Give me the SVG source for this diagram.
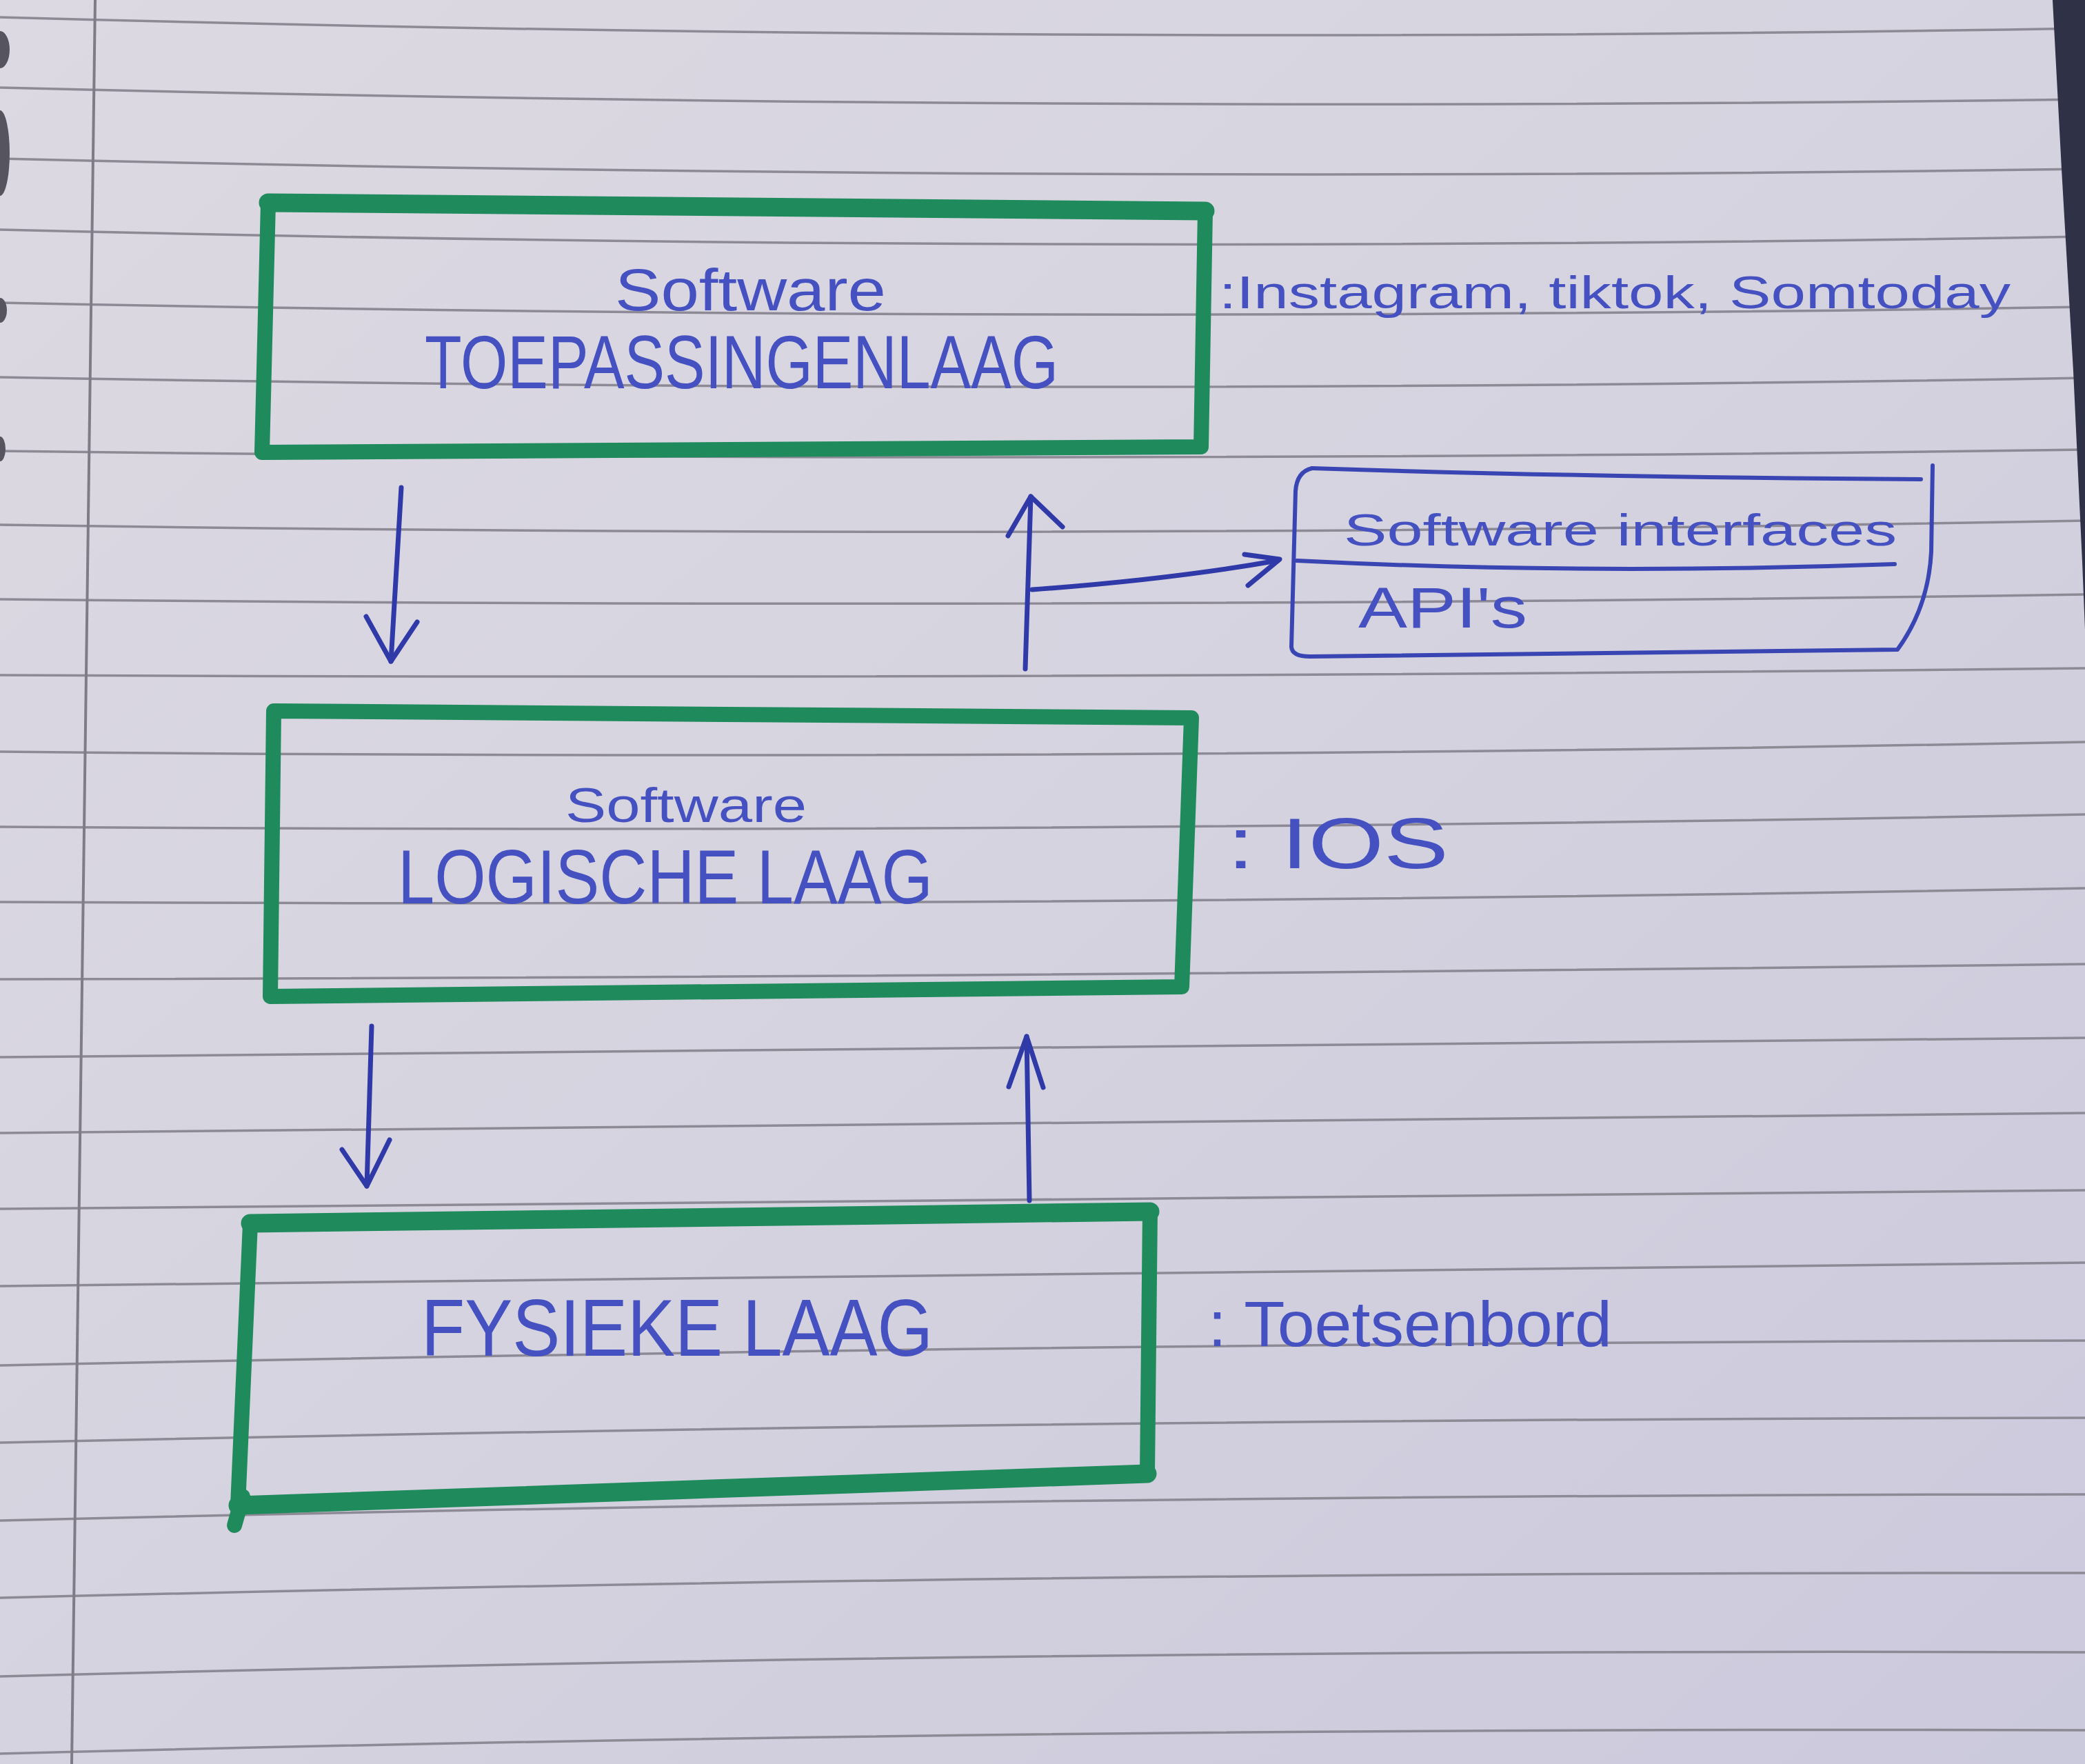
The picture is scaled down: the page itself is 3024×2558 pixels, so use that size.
<svg xmlns="http://www.w3.org/2000/svg" width="3024" height="2558" viewBox="0 0 3024 2558">
<defs>
<linearGradient id="paper" x1="0" y1="0" x2="1" y2="1">
<stop offset="0" stop-color="#dcd9e2"/>
<stop offset="0.5" stop-color="#d5d3df"/>
<stop offset="1" stop-color="#cbc9dc"/>
</linearGradient>
<style>
.rule{fill:none;stroke:#8d8a96;stroke-width:3.5}
.margin{fill:none;stroke:#7f7c88;stroke-width:4}
.green{fill:none;stroke:#1f8a5c;stroke-width:22;stroke-linejoin:round;stroke-linecap:round}
.greentop{fill:none;stroke:#1f8a5c;stroke-width:27;stroke-linecap:round}
.pen{fill:none;stroke:#3a45b4;stroke-width:6;stroke-linecap:round;stroke-linejoin:round}
.arrow{fill:none;stroke:#2f39a8;stroke-width:7;stroke-linecap:round;stroke-linejoin:round}
.ink{font-family:"Liberation Sans",Arial,sans-serif;fill:#4551c0}
</style>
</defs>

<g id="paper-background">
<rect x="0" y="0" width="3024" height="2558" fill="url(#paper)"/>
<g id="ruling">
<path class="rule" d="M0 25 Q1512 67 3024 41"/>
<path class="rule" d="M0 127 Q1512 164.5 3024 144"/>
<path class="rule" d="M0 230 Q1512 266.5 3024 245"/>
<path class="rule" d="M0 333 Q1512 370 3024 343"/>
<path class="rule" d="M0 439 Q1512 470 3024 445"/>
<path class="rule" d="M0 547 Q1512 574.5 3024 548"/>
<path class="rule" d="M0 654 Q1512 673 3024 652"/>
<path class="rule" d="M0 761 Q1512 784 3024 755"/>
<path class="rule" d="M0 869 Q1512 884.5 3024 862"/>
<path class="rule" d="M0 979 Q1512 986 3024 969"/>
<path class="rule" d="M0 1090 Q1512 1105 3024 1076"/>
<path class="rule" d="M0 1199 Q1512 1210 3024 1181"/>
<path class="rule" d="M0 1308 Q1512 1316 3024 1288"/>
<path class="rule" d="M0 1420 Q1512 1417 3024 1398"/>
<path class="rule" d="M0 1533 Q1512 1523 3024 1505"/>
<path class="rule" d="M0 1643 Q1512 1631.5 3024 1614"/>
<path class="rule" d="M0 1753 Q1512 1736.5 3024 1726"/>
<path class="rule" d="M0 1865 Q1512 1844 3024 1831"/>
<path class="rule" d="M0 1980 Q1512 1948 3024 1944"/>
<path class="rule" d="M0 2092 Q1512 2058 3024 2056"/>
<path class="rule" d="M0 2205 Q1512 2168 3024 2167"/>
<path class="rule" d="M0 2317 Q1512 2279 3024 2281"/>
<path class="rule" d="M0 2431 Q1512 2390.5 3024 2396"/>
<path class="rule" d="M0 2543 Q1512 2504 3024 2509"/>
</g>
<path class="margin" d="M138 0 C122 700 112 1500 104 2558"/>
<g id="binder-holes" fill="#56555f">
<ellipse cx="0" cy="72" rx="14" ry="27"/>
<ellipse cx="0" cy="222" rx="14" ry="62"/>
<ellipse cx="0" cy="450" rx="10" ry="18"/>
<ellipse cx="0" cy="651" rx="8" ry="18"/>
</g>
<polygon fill="#2f3147" points="2977,0 3024,0 3024,913 3020,815 3007,538 2990,245"/>
</g>

<g id="connectors">
<g id="arrow-toepassing-to-logisch">
<path class="arrow" d="M582 707 L567 959"/>
<path class="arrow" d="M531 894 L567 959 L605 902"/>
</g>
<g id="arrow-logisch-to-toepassing">
<path class="arrow" d="M1487 970 L1495 720"/>
<path class="arrow" d="M1462 777 L1495 720 L1541 764"/>
</g>
<g id="arrow-to-api">
<path class="arrow" d="M1497 855 Q1700 840 1852 813"/>
<path class="arrow" d="M1805 804 L1856 811 L1810 849"/>
</g>
<g id="arrow-logisch-to-fysiek">
<path class="arrow" d="M539 1488 L532 1720"/>
<path class="arrow" d="M496 1667 L532 1720 L565 1653"/>
</g>
<g id="arrow-fysiek-to-logisch">
<path class="arrow" d="M1493 1741 L1489 1503"/>
<path class="arrow" d="M1463 1576 L1489 1503 L1513 1577"/>
</g>
</g>

<g id="node-toepassingenlaag">
<path class="green" d="M389 294 L1748 306 L1742 648 L380 656 Z"/>
<path class="greentop" d="M389 294 L1748 306"/>
<text class="ink" x="892" y="450" font-size="86" textLength="393" lengthAdjust="spacingAndGlyphs">Software</text>
<text class="ink" x="616" y="563" font-size="110" textLength="919" lengthAdjust="spacingAndGlyphs">TOEPASSINGENLAAG</text>
</g>

<g id="label-toepassingenlaag">
<text class="ink" x="1768" y="447" font-size="66" textLength="1148" lengthAdjust="spacingAndGlyphs">:Instagram, tiktok, Somtoday</text>
</g>

<g id="node-api">
<path class="pen" d="M1903 679 Q2300 692 2786 695"/>
<path class="pen" d="M1903 679 Q1881 684 1879 712 L1873 938 Q1874 952 1900 952 L2752 942 Q2797 880 2801 800 L2803 675"/>
<path class="pen" d="M1881 813 Q2300 834 2748 818"/>
<text class="ink" x="1949" y="791" font-size="64" textLength="802" lengthAdjust="spacingAndGlyphs">Software interfaces</text>
<text class="ink" x="1970" y="910" font-size="84" textLength="245" lengthAdjust="spacingAndGlyphs">API's</text>
</g>

<g id="node-logische-laag">
<path class="green" d="M397 1031 L1728 1041 L1714 1431 L392 1445 Z"/>
<text class="ink" x="820" y="1192" font-size="70" textLength="350" lengthAdjust="spacingAndGlyphs">Software</text>
<text class="ink" x="577" y="1310" font-size="112" textLength="776" lengthAdjust="spacingAndGlyphs">LOGISCHE LAAG</text>
</g>

<g id="label-logische-laag">
<text class="ink" x="1780" y="1259" font-size="104" textLength="321" lengthAdjust="spacingAndGlyphs">: IOS</text>
</g>

<g id="node-fysieke-laag">
<path class="green" d="M363 1774 L1668 1757 L1664 2137 L345 2183 Z"/>
<path class="greentop" d="M363 1774 L1668 1757"/>
<path class="greentop" d="M345 2183 L1664 2137"/>
<path class="green" d="M352 2170 L340 2212"/>
<text class="ink" x="611" y="1966" font-size="116" textLength="742" lengthAdjust="spacingAndGlyphs">FYSIEKE LAAG</text>
</g>

<g id="label-fysieke-laag">
<text class="ink" x="1752" y="1952" font-size="92" textLength="586" lengthAdjust="spacingAndGlyphs">: Toetsenbord</text>
</g>
</svg>
